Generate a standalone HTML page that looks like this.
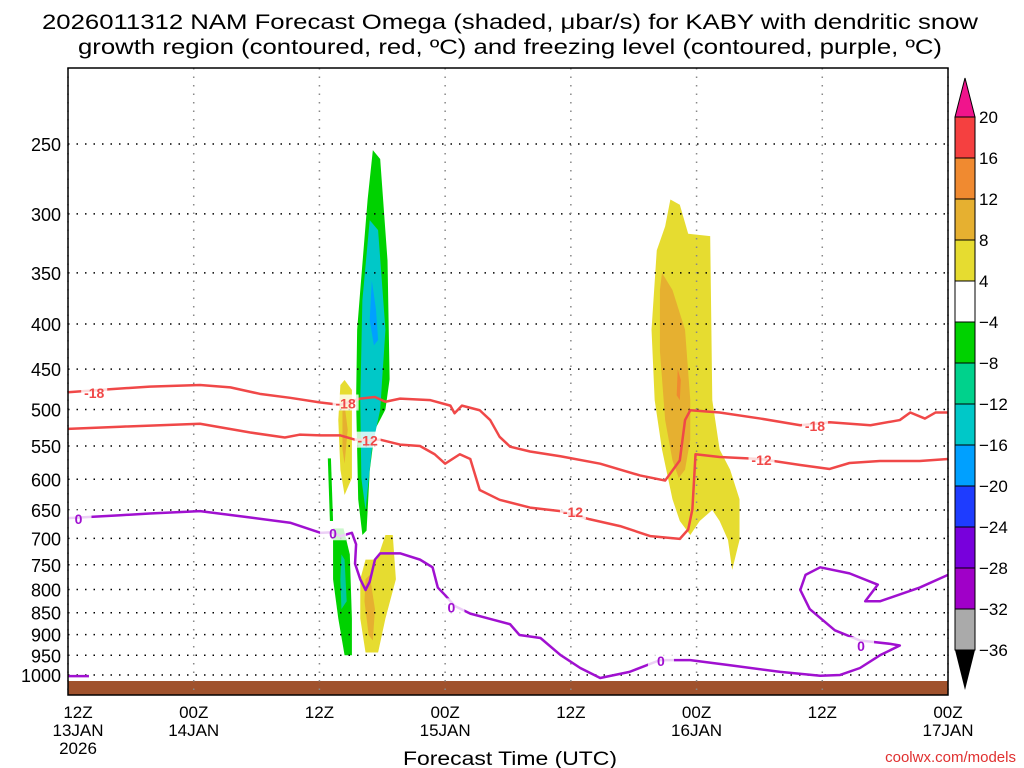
<!DOCTYPE html>
<html><head><meta charset="utf-8"><style>
body{margin:0;background:#fff;}
svg{display:block;font-family:"Liberation Sans",sans-serif;}
</style></head><body>
<svg id="chart" width="1024" height="768" viewBox="0 0 1024 768" xmlns="http://www.w3.org/2000/svg">
<text x="42" y="29" font-size="21" textLength="936" lengthAdjust="spacingAndGlyphs">2026011312 NAM Forecast Omega (shaded, μbar/s) for KABY with dendritic snow</text>
<text x="78" y="54" font-size="21" textLength="864" lengthAdjust="spacingAndGlyphs">growth region (contoured, red, ºC) and freezing level (contoured, purple, ºC)</text>
<g id="plot"></g>
<text x="510" y="765" text-anchor="middle" font-size="19" textLength="214" lengthAdjust="spacingAndGlyphs">Forecast Time (UTC)</text>
<text x="1016" y="762" text-anchor="end" font-size="15" fill="#e03030">coolwx.com/models</text>
</svg>
<script>
const pressureTicks=[250,300,350,400,450,500,550,600,650,700,750,800,850,900,950,1000];
const timeTicks=[0,12,24,36,48,60,72,84];
const timeLabels=[["12Z","13JAN","2026"],["00Z","14JAN"],["12Z"],["00Z","15JAN"],["12Z"],["00Z","16JAN"],["12Z"],["00Z","17JAN"]];
const cbLevels=[20,16,12,8,4,-4,-8,-12,-16,-20,-24,-28,-32,-36];
const cbColors=["#f54040","#f08a30","#e6b030","#e6dc30","#ffffff","#00d200","#00d28c","#00c8c8","#00a0ff","#1e3cff","#7800dc","#a000c8","#aaaaaa"];
const cm18=[[0,478],[3.1,475],[7.8,471],[12.6,469],[15.5,472],[18.3,480],[21.2,485],[24.1,491],[26,494],[27.9,486],[29.3,484],[30.3,490],[31.7,486],[34.6,488],[36.5,495],[36.9,505],[37.6,495],[39.3,501],[40.3,514],[41.2,537],[42.2,551],[44.1,558],[47,565],[50.8,576],[54.6,594],[57,602],[58.4,571],[58.9,514],[59.4,501],[62.2,504],[66.1,512],[69.9,521],[72.7,517],[76.6,521],[79.4,514],[80.4,504],[81.8,512],[82.8,504],[84,504]];
const cm12=[[0,526],[5,523],[12.6,519],[17.4,531],[20.7,538],[22.1,534],[24.1,535],[26,535],[27.4,541],[28.8,542],[29.8,541],[31.7,548],[33.6,550],[35,562],[36,576],[37.4,562],[38.4,569],[39.3,617],[41.2,633],[44.1,646],[47,652],[49.8,666],[52.7,678],[55.6,696],[58.4,701],[59.2,684],[59.6,649],[59.9,562],[62.2,566],[66.1,569],[69.9,578],[72.7,584],[74.6,575],[77.5,572],[81.3,572],[84,569]];
const c0=[[0,664],[5,659],[7.8,656],[12.6,652],[17.4,663],[21.2,672],[24.1,690],[25.2,689],[26,696],[27.1,690],[27.5,711],[27.4,748],[27.9,779],[28.4,801],[28.8,784],[29.3,740],[29.8,728],[31.7,728],[33.6,740],[34.8,755],[35.3,796],[36,812],[36.9,835],[38.4,852],[40.3,864],[42.2,876],[43.1,901],[45.1,908],[47,949],[48.9,982],[50.8,1008],[53.6,992],[56.5,962],[59.4,962],[63.2,975],[68,992],[71.8,1002],[73.7,1000],[75.6,982],[77.5,950],[79.4,926],[78.5,922],[75.6,914],[73.2,890],[70.8,842],[69.9,801],[70.4,770],[71.8,755],[74.6,767],[77.3,790],[76.1,825],[77.5,825],[81.3,796],[84,770]];
const c0b=[[0,1003],[2,1003]];
const labels18=[[2.5,478],[26.5,491],[71.3,521]];
const labels12=[[28.6,541],[48.2,652],[66.2,569]];
const labels0=[[1,664],[25.3,689],[36.6,836],[56.6,962],[75.7,925]];
const shades=[
 {c:"#00d200",pts:[[27.9,366],[28.6,289],[29.1,254],[29.8,260],[30.5,339],[30.7,462],[30.3,500],[29.3,527],[28.8,587],[28.5,686],[28.1,694],[27.7,632],[27.5,488],[27.6,406]]},
 {c:"#00c8c8",pts:[[28.1,376],[28.8,305],[29.6,313],[30.3,406],[29.8,500],[29,555],[28.4,650],[28,598],[27.9,488]]},
 {c:"#00a0ff",pts:[[29,357],[29.4,385],[29.6,417],[29.2,423],[28.8,396]]},
 {c:"#e6dc30",pts:[[26,469],[26.4,463],[27.1,475],[27.1,598],[26.4,625],[26,585],[25.8,514]]},
 {c:"#e6b030",pts:[[26.2,500],[26.4,494],[26.7,527],[26.4,576],[26.2,555]]},
 {c:"#00d200",pts:[[25.3,682],[26.3,682],[26.9,730],[27.1,863],[27.1,950],[26.4,950],[25.8,863],[25.3,779]]},
 {c:"#00c8a0",pts:[[26.1,730],[26.4,740],[26.6,825],[26.1,842],[26,779]]},
 {c:"#00d200",pts:[[24.8,568],[25.1,568],[25.3,669],[25.0,669]]},
 {c:"#e6dc30",pts:[[29.5,740],[30.3,694],[31,694],[31.3,779],[30.3,863],[29.6,943],[28.4,943],[27.9,863],[27.9,779],[28.4,740]]},
 {c:"#e6b030",pts:[[28.4,779],[28.8,770],[29.3,842],[29.1,914],[28.7,901],[28.3,825]]},
 {c:"#e6dc30",pts:[[57.5,289],[58.4,293],[59.2,316],[61.3,318],[61.5,488],[62.2,555],[63.2,585],[64.1,632],[64.1,703],[63.4,760],[63,703],[62.2,669],[61.5,650],[60.3,669],[59.4,694],[58.4,669],[57.7,632],[56.7,555],[56,488],[55.7,406],[56.2,330],[57,310]]},
 {c:"#e6b030",pts:[[56.7,350],[57.7,366],[58.9,406],[59.4,488],[59.4,541],[58.9,585],[58.3,598],[57.7,571],[57,514],[56.5,429],[56.5,366]]},
 {c:"#f08a30",pts:[[58.2,450],[58.5,463],[58.4,488],[58.1,482]]}
];
const X0=68,X1=948,Y0=68,Y1=695;
const xS=h=>X0+(X1-X0)*h/84;
const yS=p=>144+383*Math.log(p/250);
const NS="http://www.w3.org/2000/svg";
const g=document.getElementById('plot');
function mk(t,a,parent){const e=document.createElementNS(NS,t);for(const k in a)e.setAttribute(k,a[k]);(parent||g).appendChild(e);return e;}
shades.forEach(s=>{const e=mk('polygon',{points:s.pts.map(q=>xS(q[0])+','+yS(q[1])).join(' '),fill:s.c});

});
const gr=mk('rect',{x:X0,y:681,width:X1-X0,height:Y1-681,fill:'#a0522d'});


pressureTicks.forEach(p=>{const y=yS(p);
const l=mk('line',{x1:X0,x2:X1,y1:y,y2:y,stroke:'#000','stroke-width':1.5,'stroke-dasharray':'1.5 7'});


const t=mk('text',{x:61,y:y+7,'text-anchor':'end','font-size':18});t.textContent=p;

});
timeTicks.forEach((h,i)=>{const x=xS(h);
const l=mk('line',{x1:x,x2:x,y1:Y0,y2:Y1,stroke:'#888','stroke-width':1.5,'stroke-dasharray':'1.5 7'});


timeLabels[i].forEach((s,j)=>{const t=mk('text',{x:i==0?x+10:x,y:718+j*18,'text-anchor':'middle','font-size':17});t.textContent=s;

});});
function line(d,col,name){const e=mk('polyline',{points:d.map(q=>xS(q[0])+','+yS(q[1])).join(' '),fill:'none',stroke:col,'stroke-width':2.5,'stroke-linejoin':'round'});

}
line(cm18,'#f04848','contour-minus18');
line(cm12,'#f04848','contour-minus12');
line(c0,'#a010d0','freezing-level-0');
line(c0b,'#a010d0','freezing-level-0-sfc');
function lab(arr,txt,col){arr.forEach(q=>{const x=xS(q[0]),y=yS(q[1]);
mk('rect',{x:x-13,y:y-8,width:26,height:16,fill:'#fff','fill-opacity':0.8});
const t=mk('text',{x:x,y:y+6,'text-anchor':'middle','font-size':14,'font-weight':'bold',fill:col});t.textContent=txt;

});}
lab(labels18,'-18','#f04848');lab(labels12,'-12','#f04848');lab(labels0,'0','#a010d0');
const fr=mk('rect',{x:X0,y:Y0,width:X1-X0,height:Y1-Y0,fill:'none',stroke:'#000','stroke-width':1.5});


const cbX=955,cbW=20,cbTop=117,step=41;
const tri=mk('polygon',{points:`${cbX},${cbTop} ${cbX+cbW},${cbTop} ${cbX+cbW/2},${cbTop-39}`,fill:'#f0148c',stroke:'#000'});


cbColors.forEach((c,i)=>{const r=mk('rect',{x:cbX,y:cbTop+i*step,width:cbW,height:step,fill:c,stroke:'#000'});

});
const yb=cbTop+cbColors.length*step;
const tri2=mk('polygon',{points:`${cbX},${yb} ${cbX+cbW},${yb} ${cbX+cbW/2},${yb+40}`,fill:'#000'});


cbLevels.forEach((v,i)=>{const t=mk('text',{x:979,y:cbTop+i*step+6,'font-size':17});t.textContent=v<0?'−'+(-v):v;

});
</script>
</body></html>
